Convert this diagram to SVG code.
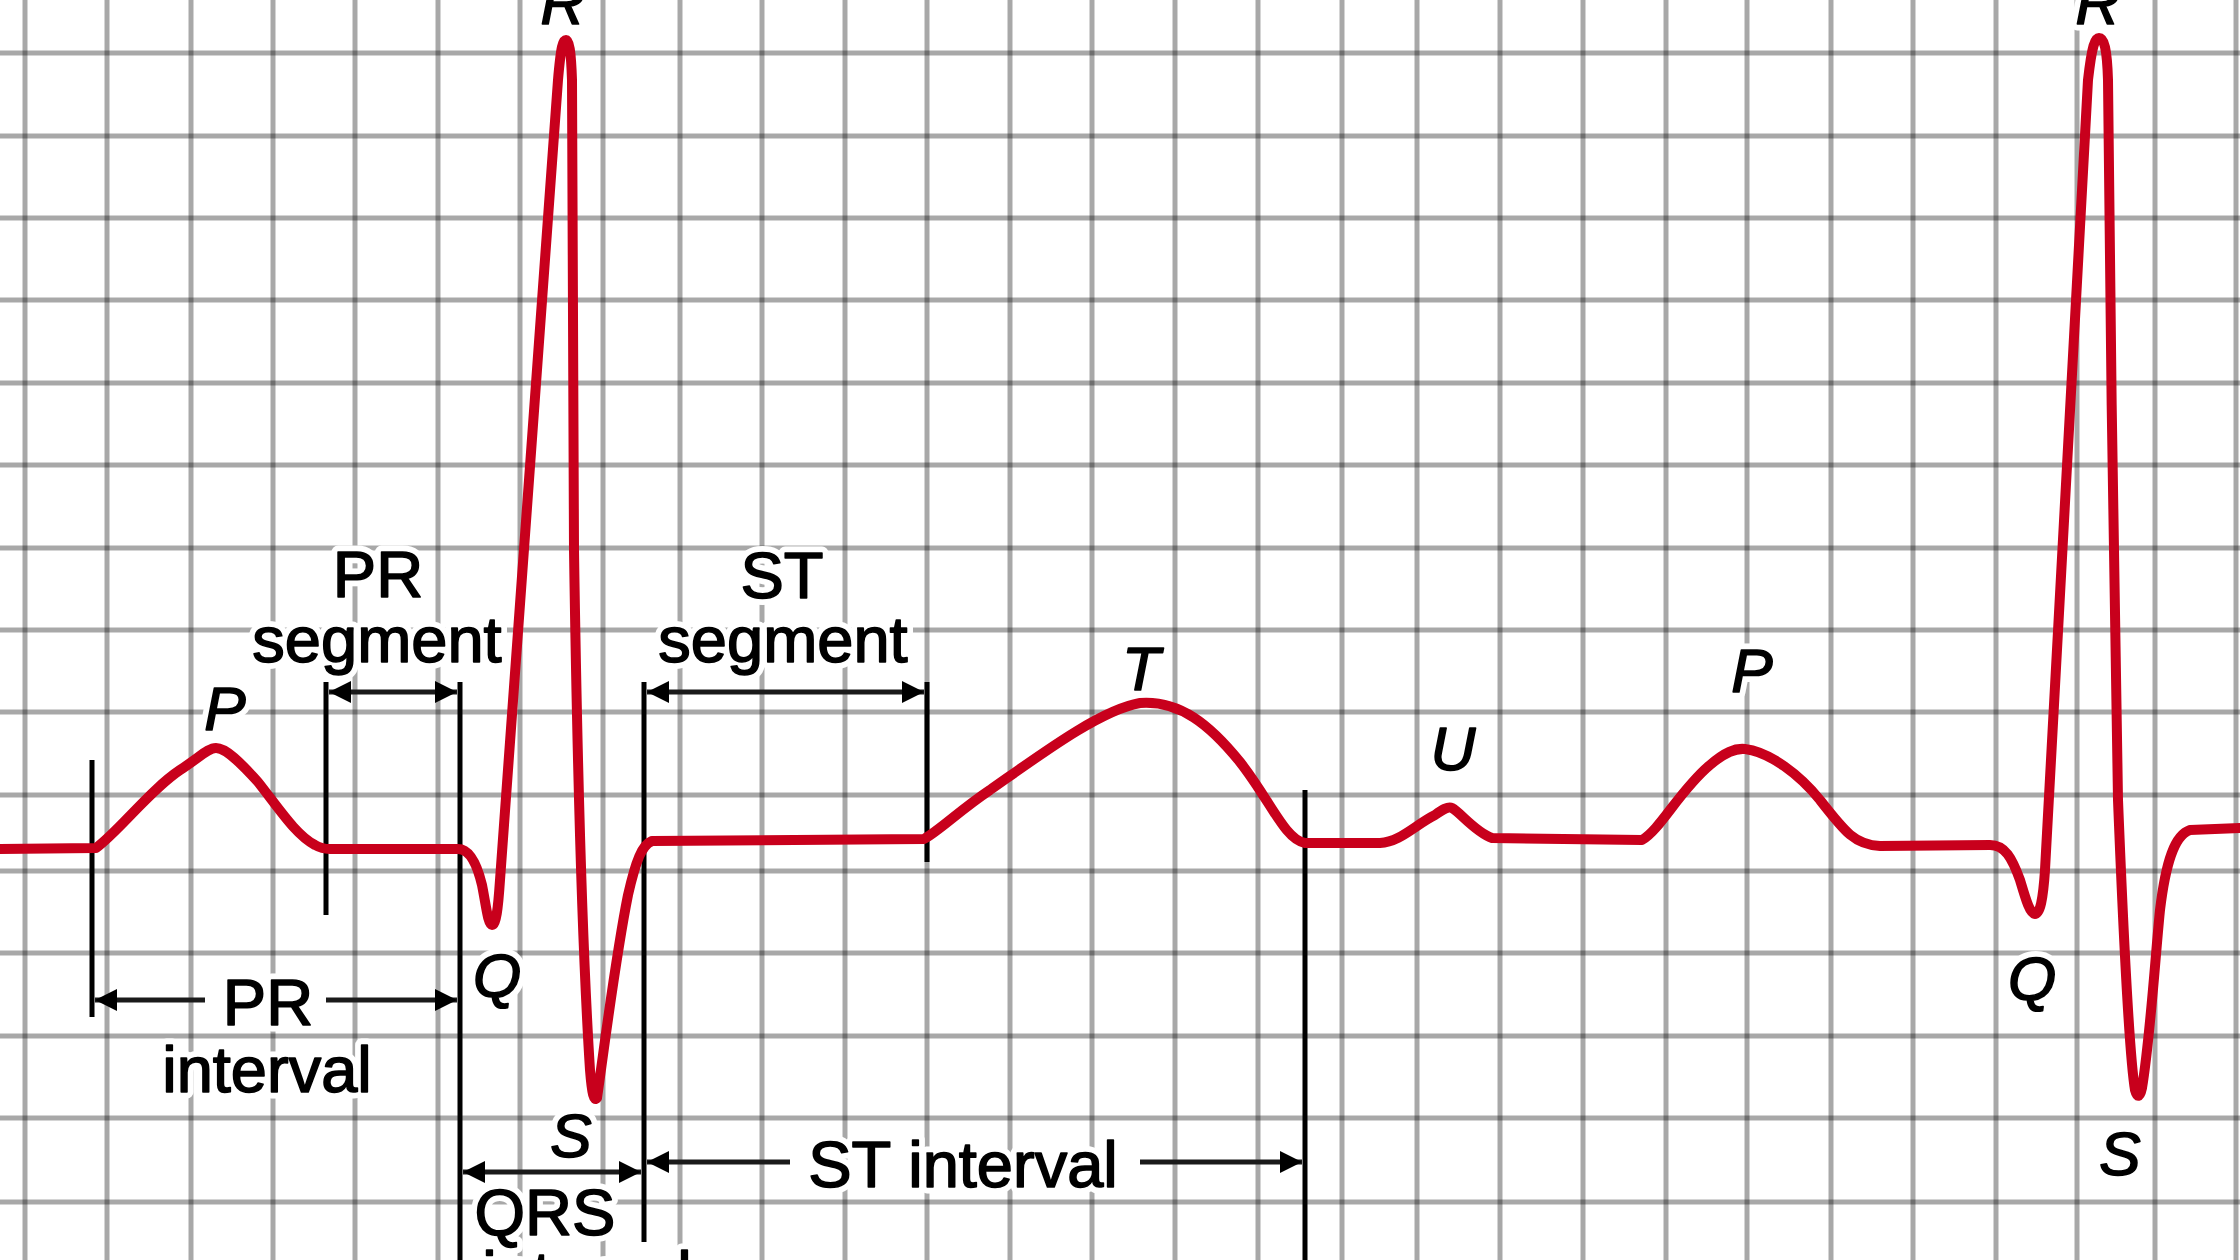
<svg xmlns="http://www.w3.org/2000/svg" width="2240" height="1260" viewBox="0 0 2240 1260">
<style>
.grid line{stroke:#000;stroke-opacity:0.34;stroke-width:5}
.lbl{font-family:"Liberation Sans",Arial,Helvetica,sans-serif;font-size:65px;text-anchor:middle;stroke-linejoin:round}
.it{font-style:italic;font-size:62px}
.halo{fill:#fff;stroke:#fff;stroke-width:13px}
.ink{fill:#000;stroke:#000;stroke-width:1.6px}
.bar{stroke:#000;stroke-width:5;fill:none}
.arr{stroke:#1a1a1a;stroke-width:5;fill:none}
.trace{stroke:#c8001c;stroke-width:10;fill:none;stroke-linejoin:round;stroke-linecap:round}
</style>
<defs>
<marker id="ah" viewBox="0 0 10 10" refX="10" refY="5" markerUnits="userSpaceOnUse" markerWidth="26" markerHeight="22" orient="auto-start-reverse">
<path d="M0,0 L10,5 L0,10 z" fill="#000"/>
</marker>
</defs>
<rect width="2240" height="1260" fill="#fff"/>
<g id="grid" class="grid">
<line x1="25" y1="0" x2="25" y2="1260"/><line x1="107" y1="0" x2="107" y2="1260"/><line x1="191" y1="0" x2="191" y2="1260"/><line x1="273" y1="0" x2="273" y2="1260"/><line x1="355" y1="0" x2="355" y2="1260"/><line x1="438" y1="0" x2="438" y2="1260"/><line x1="520" y1="0" x2="520" y2="1260"/><line x1="603" y1="0" x2="603" y2="1260"/><line x1="680" y1="0" x2="680" y2="1260"/><line x1="762" y1="0" x2="762" y2="1260"/><line x1="845" y1="0" x2="845" y2="1260"/><line x1="927" y1="0" x2="927" y2="1260"/><line x1="1010" y1="0" x2="1010" y2="1260"/><line x1="1092" y1="0" x2="1092" y2="1260"/><line x1="1175" y1="0" x2="1175" y2="1260"/><line x1="1258" y1="0" x2="1258" y2="1260"/><line x1="1342" y1="0" x2="1342" y2="1260"/><line x1="1417" y1="0" x2="1417" y2="1260"/><line x1="1500" y1="0" x2="1500" y2="1260"/><line x1="1583" y1="0" x2="1583" y2="1260"/><line x1="1666" y1="0" x2="1666" y2="1260"/><line x1="1747" y1="0" x2="1747" y2="1260"/><line x1="1831" y1="0" x2="1831" y2="1260"/><line x1="1913" y1="0" x2="1913" y2="1260"/><line x1="1996" y1="0" x2="1996" y2="1260"/><line x1="2077" y1="0" x2="2077" y2="1260"/><line x1="2155" y1="0" x2="2155" y2="1260"/><line x1="2236" y1="0" x2="2236" y2="1260"/>
<line x1="0" y1="53" x2="2240" y2="53"/><line x1="0" y1="136" x2="2240" y2="136"/><line x1="0" y1="218" x2="2240" y2="218"/><line x1="0" y1="300" x2="2240" y2="300"/><line x1="0" y1="383" x2="2240" y2="383"/><line x1="0" y1="465" x2="2240" y2="465"/><line x1="0" y1="548" x2="2240" y2="548"/><line x1="0" y1="630" x2="2240" y2="630"/><line x1="0" y1="712" x2="2240" y2="712"/><line x1="0" y1="795" x2="2240" y2="795"/><line x1="0" y1="871" x2="2240" y2="871"/><line x1="0" y1="953" x2="2240" y2="953"/><line x1="0" y1="1036" x2="2240" y2="1036"/><line x1="0" y1="1118" x2="2240" y2="1118"/><line x1="0" y1="1202" x2="2240" y2="1202"/>
</g>
<g class="halo"><use href="#labeltexts"/></g>
<g id="labels" class="ink">
<g id="labeltexts">
<text class="lbl" x="378" y="597">PR</text>
<text class="lbl" x="377" y="662">segment</text>
<text class="lbl" x="782" y="598">ST</text>
<text class="lbl" x="783" y="662">segment</text>
<text class="lbl" x="268" y="1025">PR</text>
<text class="lbl" x="267" y="1092">interval</text>
<text class="lbl" x="545" y="1235">QRS</text>
<text class="lbl" x="587" y="1297">interval</text>
<text class="lbl" x="963" y="1187">ST interval</text>
<text class="lbl it" x="225" y="730">P</text>
<text class="lbl it" x="563" y="24">R</text>
<text class="lbl it" x="497" y="997">Q</text>
<text class="lbl it" x="571" y="1157">S</text>
<text class="lbl it" x="1141" y="690">T</text>
<text class="lbl it" x="1453" y="770">U</text>
<text class="lbl it" x="1752" y="692">P</text>
<text class="lbl it" x="2098" y="24">R</text>
<text class="lbl it" x="2032" y="1000">Q</text>
<text class="lbl it" x="2120" y="1175">S</text>
</g>
</g>
<g id="connectors">
<line class="bar" x1="92" y1="760" x2="92" y2="1017"/>
<line class="bar" x1="326" y1="682" x2="326" y2="915"/>
<line class="bar" x1="460" y1="682" x2="460" y2="1260"/>
<line class="bar" x1="644" y1="682" x2="644" y2="1242"/>
<line class="bar" x1="927" y1="682" x2="927" y2="862"/>
<line class="bar" x1="1305" y1="790" x2="1305" y2="1260"/>
<line class="arr" x1="329" y1="692" x2="457" y2="692" marker-start="url(#ah)" marker-end="url(#ah)"/>
<line class="arr" x1="647" y1="692" x2="924" y2="692" marker-start="url(#ah)" marker-end="url(#ah)"/>
<line class="arr" x1="95" y1="1000" x2="205" y2="1000" marker-start="url(#ah)"/>
<line class="arr" x1="326" y1="1000" x2="457" y2="1000" marker-end="url(#ah)"/>
<line class="arr" x1="463" y1="1172" x2="641" y2="1172" marker-start="url(#ah)" marker-end="url(#ah)"/>
<line class="arr" x1="647" y1="1162" x2="790" y2="1162" marker-start="url(#ah)"/>
<line class="arr" x1="1140" y1="1162" x2="1302" y2="1162" marker-end="url(#ah)"/>
</g>
<g id="ecg-trace">
<path class="trace" d="M0,849 L96,848 C120,830 150,790 180,770 C200,757 208,748 216,748 C226,748 240,762 258,782 C280,810 296,835 315,845 C322,849 326,849 330,849 L458,849 C468,849 476,860 482,885 C486,905 488,925 492,925 C496,925 498,910 500,880 L558,80 C561,45 563,40 566,40 C569,40 571,50 572,80 C572,250 573,400 574,550 C577,750 583,960 590,1070 C592,1095 594,1102 597,1098 C604,1050 615,960 628,895 C636,860 642,845 652,841 L924,839 C940,830 960,810 990,790 C1040,755 1100,710 1140,703 C1180,700 1210,725 1240,762 C1270,800 1285,840 1305,843 L1380,843 C1400,842 1415,825 1435,815 C1442,810 1448,806 1452,808 C1460,812 1475,832 1492,838 L1642,840 C1660,830 1680,790 1710,765 C1725,752 1735,748 1745,749 C1770,752 1800,775 1820,800 C1845,832 1855,845 1880,846 L1990,845 C2005,845 2012,858 2020,880 C2026,900 2030,914 2035,914 C2040,914 2043,900 2045,870 L2088,80 C2092,45 2095,38 2099,38 C2104,38 2107,48 2108,80 C2110,300 2114,600 2118,800 C2124,950 2130,1060 2135,1090 C2137,1098 2140,1098 2142,1088 C2150,1040 2155,960 2160,910 C2166,860 2175,835 2190,830 L2240,828"/>
</g>
</svg>
